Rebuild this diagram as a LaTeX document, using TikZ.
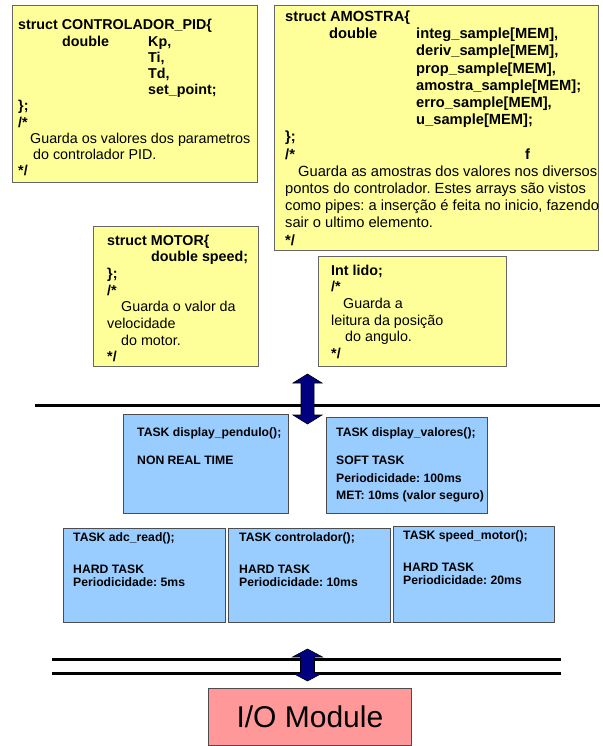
\documentclass[tikz,border=0pt]{standalone}
\usepackage{fontspec}
\setmainfont{Liberation Sans}
\frenchspacing
\definecolor{notayellow}{HTML}{FFFF99}
\definecolor{taskblue}{HTML}{99CCFF}
\definecolor{iopink}{HTML}{FF9999}
\definecolor{busnavy}{HTML}{000080}

\begin{document}
\begin{tikzpicture}[x=1pt, y=-1pt,
    structbox/.style={draw=black!60, line width=1.2pt, fill=notayellow, anchor=north west},
    taskbox/.style={draw=black!70, line width=0.8pt, fill=taskblue, anchor=north west},
    iobox/.style={draw=black!70, line width=0.8pt, fill=iopink, anchor=north west,
      font=\fontsize{30}{36}\selectfont},
    codetext/.style 2 args={anchor=base west, inner sep=0pt, font=\fontsize{#1}{#2}\selectfont\bfseries},
    busline/.style={line width=3pt},
    busarrow/.style={fill=busnavy, draw=black, line width=0.6pt}]
  \useasboundingbox (0,0) rectangle (602,746);
  % Barramentos
  \draw[busline] (35,405) -- (600,405);
  \draw[busline] (52,659) -- (561,659);
  \draw[busline] (52,673) -- (561,673);
  % Setas duplas
  \draw[busarrow] (307.5,374) -- ++(14.5,9) -- ++(-8,0) -- ++(0,32) -- ++(8,0) -- ++(-14.5,9)
    -- ++(-14.5,-9) -- ++(8,0) -- ++(0,-32) -- ++(-8,0) -- cycle;
  \draw[busarrow] (307.5,649) -- ++(15,8) -- ++(-8,0) -- ++(0,16) -- ++(8,0) -- ++(-15,8)
    -- ++(-15,-8) -- ++(8,0) -- ++(0,-16) -- ++(-8,0) -- cycle;
  % Estruturas partilhadas
  \node[structbox, minimum width=245, minimum height=177] (pid) at (12,5) {};
  \node[codetext={14.3}{16.2}] (pidtext) at ([shift={(6,25)}]pid.north west) {\begin{tabular}[t]{@{}l@{}}
    struct CONTROLADOR\_PID\{\\
    \hspace*{44pt}\makebox[86pt][l]{double}Kp,\\
    \hspace*{130pt}Ti,\\
    \hspace*{130pt}Td,\\
    \hspace*{130pt}set\_point;\\
    \};\\
    /*\\
    \mdseries\hspace*{12pt}Guarda os valores dos parametros\\
    \mdseries\hspace*{15pt}do controlador PID.\\ {*}/
  \end{tabular}};
  \node[structbox, minimum width=324, minimum height=245] (amostra) at (274,5) {};
  \node[codetext={14.7}{17.2}] (amostratext) at ([shift={(11,16.5)}]amostra.north west) {\begin{tabular}[t]{@{}l@{}}
    struct AMOSTRA\{\\
    \hspace*{44pt}\makebox[87pt][l]{double}integ\_sample[MEM],\\
    \hspace*{131pt}deriv\_sample[MEM],\\
    \hspace*{131pt}prop\_sample[MEM],\\
    \hspace*{131pt}amostra\_sample[MEM];\\
    \hspace*{131pt}erro\_sample[MEM],\\
    \hspace*{131pt}u\_sample[MEM];\\
    \};\\
    \makebox[240pt][l]{/*}f\\
    \mdseries\hspace*{13pt}Guarda as amostras dos valores nos diversos\\
    \mdseries pontos do controlador. Estes arrays são vistos\\
    \mdseries como pipes: a inserção é feita no inicio, fazendo\\
    \mdseries sair o ultimo elemento.\\ {*}/
  \end{tabular}};
  \node[structbox, minimum width=165, minimum height=140] (motor) at (93,226) {};
  \node[codetext={14.3}{16.7}] (motortext) at ([shift={(14,19)}]motor.north west) {\begin{tabular}[t]{@{}l@{}}
    struct MOTOR\{\\
    \hspace*{44pt}double speed;\\
    \};\\
    /*\\
    \mdseries\hspace*{14pt}Guarda o valor da\\
    \mdseries velocidade\\
    \mdseries\hspace*{14pt}do motor.\\ {*}/
  \end{tabular}};
  \node[structbox, minimum width=188, minimum height=110] (lido) at (318,256) {};
  \node[codetext={14.3}{16.7}] (lidotext) at ([shift={(13,19)}]lido.north west) {\begin{tabular}[t]{@{}l@{}}
    Int lido;\\
    /*\\
    \mdseries\hspace*{12pt}Guarda a\\
    \mdseries leitura da posição\\
    \mdseries\hspace*{14pt}do angulo.\\ {*}/
  \end{tabular}};
  % Tarefas
  \node[taskbox, minimum width=165, minimum height=99] (pendulo) at (123,414) {};
  \node[codetext={12.2}{17.5}] (pendulotext) at ([shift={(14,22.5)}]pendulo.north west) {\begin{tabular}[t]{@{}l@{}}
    TASK display\_pendulo();\\[10.5pt]
    NON REAL TIME
  \end{tabular}};
  \node[taskbox, minimum width=161, minimum height=96] (valores) at (326,417) {};
  \node[codetext={12.2}{17.5}] (valorestext) at ([shift={(10,19.5)}]valores.north west) {\begin{tabular}[t]{@{}l@{}}
    TASK display\_valores();\\[10.5pt]
    SOFT TASK\\
    Periodicidade: 100ms\\
    MET: 10ms (valor seguro)
  \end{tabular}};
  \node[taskbox, minimum width=162, minimum height=94] (adcread) at (63,528) {};
  \node[codetext={12.2}{13.8}] (adcreadtext) at ([shift={(10,13)}]adcread.north west) {\begin{tabular}[t]{@{}l@{}}
    TASK adc\_read();\\[18.2pt]
    HARD TASK\\
    Periodicidade: 5ms
  \end{tabular}};
  \node[taskbox, minimum width=162, minimum height=94] (controlador) at (228,528) {};
  \node[codetext={12.2}{13.8}] (controladortext) at ([shift={(11,13)}]controlador.north west) {\begin{tabular}[t]{@{}l@{}}
    TASK controlador();\\[18.2pt]
    HARD TASK\\
    Periodicidade: 10ms
  \end{tabular}};
  \node[taskbox, minimum width=161, minimum height=96] (speedmotor) at (393,526) {};
  \node[codetext={12.2}{13.8}] (speedmotortext) at ([shift={(10,13)}]speedmotor.north west) {\begin{tabular}[t]{@{}l@{}}
    TASK speed\_motor();\\[18.2pt]
    HARD TASK\\
    Periodicidade: 20ms
  \end{tabular}};
  % Modulo de entrada/saida
  \node[iobox, minimum width=203, minimum height=57] (io) at (208,688) {I/O Module};
\end{tikzpicture}
\end{document}
